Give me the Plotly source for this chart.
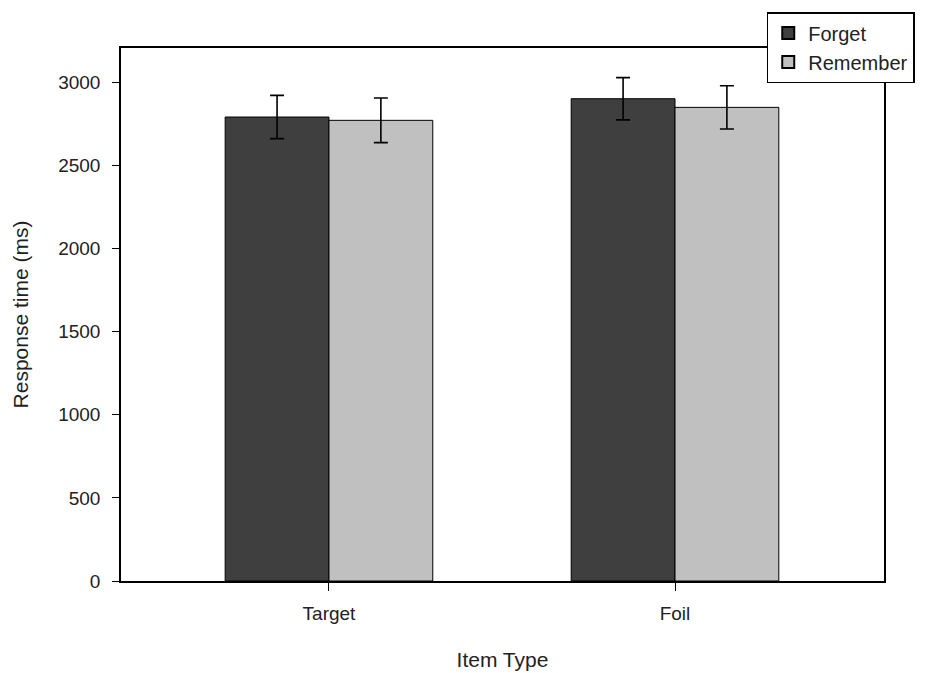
import plotly.graph_objects as go

categories = ["Target", "Foil"]
cat_pos = [0, 1]
forget_mean = [2790, 2900]
forget_err = [130, 127]
remember_mean = [2770, 2848]
remember_err = [134, 130]
y_ticks = [0, 500, 1000, 1500, 2000, 2500, 3000]

font_family = "Liberation Sans, Arial, sans-serif"

fig = go.Figure()
fig.add_trace(go.Bar(
    name="Forget", x=cat_pos, y=forget_mean,
    marker=dict(color="#3f3f3f", line=dict(color="#000000", width=1)),
    error_y=dict(type="data", array=forget_err, color="#000000", thickness=1.6, width=7),
))
fig.add_trace(go.Bar(
    name="Remember", x=cat_pos, y=remember_mean,
    marker=dict(color="#c0c0c0", line=dict(color="#000000", width=1)),
    error_y=dict(type="data", array=remember_err, color="#000000", thickness=1.6, width=7),
))

fig.update_layout(
    width=952, height=673,
    margin=dict(l=113, r=76, t=40, b=100, autoexpand=False),
    paper_bgcolor="white", plot_bgcolor="white",
    barmode="group", bargap=0.4, bargroupgap=0,
    font=dict(family=font_family, size=19, color="#222222"),
    showlegend=True,
    legend=dict(
        xref="container", yref="container",
        x=0.797, y=0.994, xanchor="left", yanchor="top",
        bordercolor="#000000", borderwidth=1.5, bgcolor="white",
        font=dict(size=20, color="#222222"),
        tracegroupgap=0, itemsizing="constant", entrywidth=170,
    ),
    xaxis=dict(
        range=[-0.601, 1.604], tickvals=cat_pos, ticktext=categories,
        showline=True, linecolor="#000000", linewidth=1.5, mirror=True,
        ticks="outside", ticklen=8, tickcolor="#000000",
        ticklabelstandoff=6,
        showgrid=False, zeroline=False,
        title=dict(text="Item Type", font=dict(size=21), standoff=30),
    ),
    yaxis=dict(
        range=[0, 3205], tickvals=y_ticks,
        showline=True, linecolor="#000000", linewidth=1.5, mirror=True,
        ticks="outside", ticklen=7, tickcolor="#000000",
        ticklabelstandoff=8,
        showgrid=False, zeroline=False,
        title=dict(text="Response time (ms)", font=dict(size=21), standoff=24),
    ),
)

fig.write_html("out.html")
